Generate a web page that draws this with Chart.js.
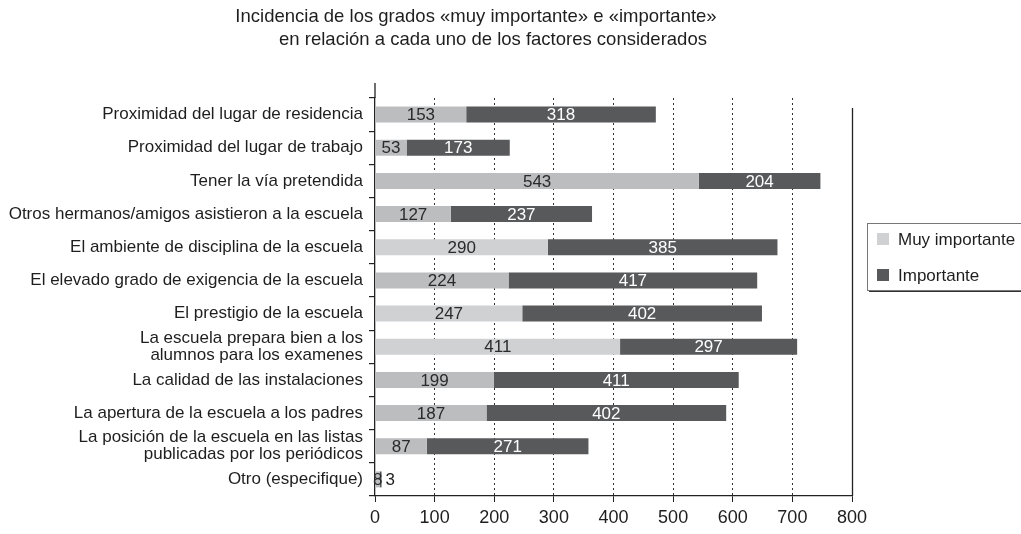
<!DOCTYPE html>
<html>
<head>
<meta charset="utf-8">
<script src="https://cdn.jsdelivr.net/npm/chart.js@4"></script>
<style>
  html, body { margin: 0; padding: 0; background: #fff; }
</style>
</head>
<body>
<canvas id="chart" width="1021" height="534"></canvas>
<script>
// --- data ---
const factores = [
  'Proximidad del lugar de residencia',
  'Proximidad del lugar de trabajo',
  'Tener la vía pretendida',
  'Otros hermanos/amigos asistieron a la escuela',
  'El ambiente de disciplina de la escuela',
  'El elevado grado de exigencia de la escuela',
  'El prestigio de la escuela',
  ['La escuela prepara bien a los', 'alumnos para los examenes'],
  'La calidad de las instalaciones',
  'La apertura de la escuela a los padres',
  ['La posición de la escuela en las listas', 'publicadas por los periódicos'],
  'Otro (especifique)'
];
const muyImportante = [153, 53, 543, 127, 290, 224, 247, 411, 199, 187, 87, 8];
const importante = [318, 173, 204, 237, 385, 417, 402, 297, 411, 402, 271, 3];
const xTicks = [0, 100, 200, 300, 400, 500, 600, 700, 800];
const titulo = [
  'Incidencia de los grados «muy importante» e «importante»',
  'en relación a cada uno de los factores considerados'
];
const serieNombres = ['Muy importante', 'Importante'];

// --- styles ---
const FONT = '"Liberation Sans", Arial, sans-serif';
const TEXT = '#1e1e1e';
const DARK = '#58595b';
const LIGHT = '#bcbdbf';
const LIGHTER = '#d0d1d3';
// the scan prints some light segments a shade paler than others
const lightShades = [LIGHT, LIGHT, LIGHT, LIGHT, LIGHTER, LIGHT, LIGHTER, LIGHTER, LIGHT, LIGHT, LIGHT, LIGHT];

const decor = {
  id: 'decor',
  afterDatasetsDraw(chart) {
    const ctx = chart.ctx;
    ctx.save();
    ctx.font = '17px ' + FONT;
    ctx.textBaseline = 'middle';
    chart.data.datasets.forEach((ds, di) => {
      const meta = chart.getDatasetMeta(di);
      meta.data.forEach((bar, i) => {
        const v = ds.data[i];
        const w = Math.abs(bar.x - bar.base);
        if (di === 1 && w < 12) {
          ctx.fillStyle = TEXT;
          ctx.textAlign = 'left';
          ctx.fillText(String(v), bar.x + 4, bar.y + 1);
        } else {
          ctx.fillStyle = di === 0 ? '#2a2a2a' : '#ffffff';
          ctx.textAlign = 'center';
          ctx.fillText(String(v), (bar.x + bar.base) / 2, bar.y + 1);
        }
      });
    });
    ctx.restore();
  },
  afterDraw(chart) {
    const ctx = chart.ctx;
    const area = chart.chartArea;
    const x = chart.scales.x;
    ctx.save();
    // title
    ctx.fillStyle = TEXT;
    ctx.font = '18.5px ' + FONT;
    ctx.textAlign = 'center';
    ctx.textBaseline = 'middle';
    ctx.fillText(titulo[0], 476, 17);
    ctx.fillText(titulo[1], 493, 40);
    // y axis runs a bit above the first category
    ctx.strokeStyle = '#222';
    ctx.lineWidth = 1.3;
    ctx.beginPath();
    ctx.moveTo(area.left, area.top - 15);
    ctx.lineTo(area.left, area.top);
    ctx.stroke();
    // solid rule at the end of the scale
    const xr = Math.round(x.getPixelForValue(800)) + 0.5;
    ctx.lineWidth = 1.3;
    ctx.beginPath();
    ctx.moveTo(xr, area.top + 10);
    ctx.lineTo(xr, area.bottom);
    ctx.stroke();
    // legend box with shadow
    const lx = 867, ly = 223, lw = 170, lh = 67;
    ctx.fillStyle = '#333';
    ctx.fillRect(lx + 2, ly + 2, lw, lh);
    ctx.fillStyle = '#fff';
    ctx.fillRect(lx, ly, lw, lh);
    ctx.strokeStyle = '#777';
    ctx.lineWidth = 1;
    ctx.strokeRect(lx + 0.5, ly + 0.5, lw, lh);
    ctx.font = '17px ' + FONT;
    ctx.textAlign = 'left';
    [LIGHTER, DARK].forEach((c, k) => {
      const yy = 239 + k * 36;
      ctx.fillStyle = c;
      ctx.fillRect(877, yy - 6, 12, 12);
      ctx.fillStyle = TEXT;
      ctx.fillText(serieNombres[k], 898, yy + 1);
    });
    ctx.restore();
  }
};

new Chart(document.getElementById('chart'), {
  type: 'bar',
  data: {
    labels: factores,
    datasets: [
      { label: serieNombres[0], data: muyImportante, backgroundColor: lightShades },
      { label: serieNombres[1], data: importante, backgroundColor: DARK }
    ]
  },
  options: {
    indexAxis: 'y',
    responsive: false,
    animation: false,
    devicePixelRatio: 1,
    layout: { padding: { top: 98, right: 169, bottom: 0, left: 0 } },
    datasets: { bar: { barPercentage: 0.48, categoryPercentage: 1 } },
    plugins: {
      legend: { display: false },
      title: { display: false },
      tooltip: { enabled: false }
    },
    scales: {
      x: {
        stacked: true,
        min: 0,
        max: 800,
        afterBuildTicks: s => { s.ticks = xTicks.map(v => ({ value: v })); },
        grid: {
          color: c => (c.tick && (c.tick.value === 0 || c.tick.value === 800)) ? 'rgba(0,0,0,0)' : '#333',
          lineWidth: 1,
          tickColor: '#222',
          tickLength: 6,
          tickBorderDash: []
        },
        border: { color: '#222', width: 1.3, dash: [2, 3] },
        ticks: { color: TEXT, font: { family: FONT, size: 18, lineHeight: 1.0 }, padding: 7, maxRotation: 0 }
      },
      y: {
        stacked: true,
        afterFit: s => { s.width = 375; },
        grid: {
          offset: true,
          drawOnChartArea: false,
          tickColor: '#222',
          tickLength: 6,
          lineWidth: 1.2
        },
        border: { color: '#222', width: 1.3 },
        ticks: { autoSkip: false, color: TEXT, font: { family: FONT, size: 17, lineHeight: 1.0 }, padding: 6 }
      }
    }
  },
  plugins: [decor]
});
</script>
</body>
</html>
